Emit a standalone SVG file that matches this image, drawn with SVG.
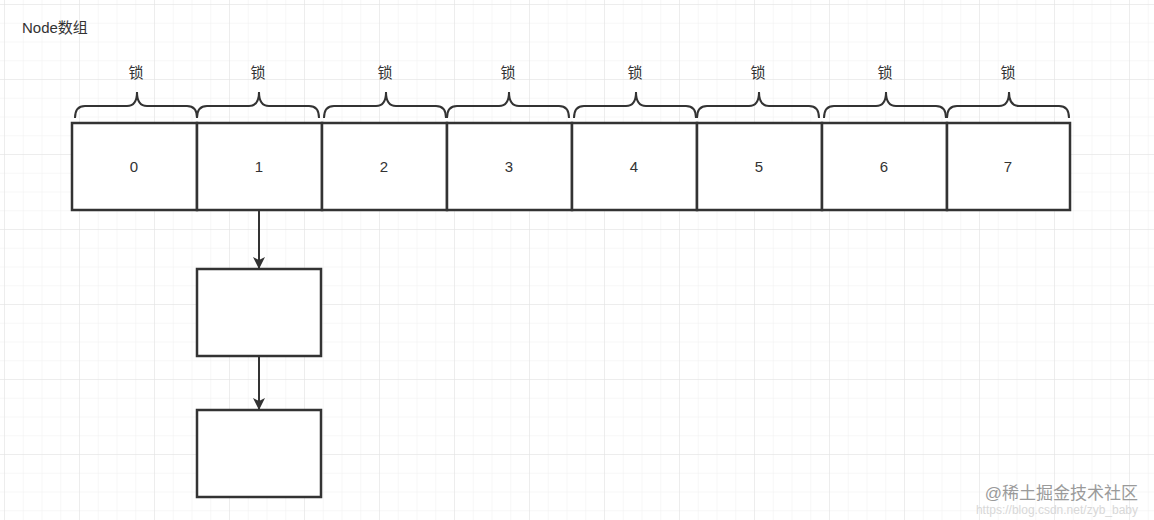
<svg xmlns="http://www.w3.org/2000/svg" width="1154" height="520" viewBox="0 0 1154 520">
<defs>
<pattern id="g" width="18.75" height="18.75" patternUnits="userSpaceOnUse" x="5" y="5"><path d="M18.75 0V18.75H0" fill="none" stroke="#efefef" stroke-width="1"/></pattern>
<pattern id="G" width="75" height="75" patternUnits="userSpaceOnUse" x="5" y="5"><path d="M75 0V75H0" fill="none" stroke="#e3e3e3" stroke-width="1"/></pattern>
<marker id="a" markerWidth="14" markerHeight="14" refX="11" refY="7" orient="auto" markerUnits="userSpaceOnUse"><path d="M0 1L12 7L0 13L3 7Z" fill="#333"/></marker>
<path id="br" d="M0 12Q0 0 10 0H52Q62 0 62 -14Q62 0 72 0H112Q122 0 122 12" fill="none" stroke="#333" stroke-width="2"/>
</defs>
<style>
.c{fill:#fff;stroke:#333;stroke-width:2.5}
text{font-family:"Liberation Sans","Noto Sans CJK SC",sans-serif;font-size:15px;fill:#333;text-anchor:middle}
.l{font-size:14px}
</style>
<rect width="1154" height="520" fill="#fff"/>
<rect width="1154" height="520" fill="url(#g)"/>
<rect width="1154" height="520" fill="url(#G)"/>
<text x="22" y="33" style="text-anchor:start">Node数组</text>
<g id="braces">
<use href="#br" x="75" y="106"/><use href="#br" x="197" y="106"/><use href="#br" x="324" y="106"/><use href="#br" x="447" y="106"/>
<use href="#br" x="574" y="106"/><use href="#br" x="697" y="106"/><use href="#br" x="824" y="106"/><use href="#br" x="947" y="106"/>
</g>
<g id="locks" class="l">
<text x="136" y="78">锁</text><text x="258" y="78">锁</text><text x="385" y="78">锁</text><text x="508" y="78">锁</text>
<text x="635" y="78">锁</text><text x="758" y="78">锁</text><text x="885" y="78">锁</text><text x="1008" y="78">锁</text>
</g>
<g id="cell0"><rect class="c" x="72" y="123" width="125" height="87"/><text x="134" y="172">0</text></g>
<g id="cell1"><rect class="c" x="197" y="123" width="125" height="87"/><text x="259" y="172">1</text></g>
<g id="cell2"><rect class="c" x="322" y="123" width="125" height="87"/><text x="384" y="172">2</text></g>
<g id="cell3"><rect class="c" x="447" y="123" width="125" height="87"/><text x="509" y="172">3</text></g>
<g id="cell4"><rect class="c" x="572" y="123" width="125" height="87"/><text x="634" y="172">4</text></g>
<g id="cell5"><rect class="c" x="697" y="123" width="125" height="87"/><text x="759" y="172">5</text></g>
<g id="cell6"><rect class="c" x="822" y="123" width="125" height="87"/><text x="884" y="172">6</text></g>
<g id="cell7"><rect class="c" x="947" y="123" width="123" height="87"/><text x="1008" y="172">7</text></g>
<g id="n1"><rect class="c" x="197" y="269" width="124" height="87"/></g>
<g id="n2"><rect class="c" x="197" y="410" width="124" height="87"/></g>
<g id="connectors" stroke="#333" stroke-width="2" fill="none">
<path d="M259 211V268" marker-end="url(#a)"/>
<path d="M259 357V409" marker-end="url(#a)"/>
</g>
<text x="1138" y="514" style="text-anchor:end;fill:#d8d8d8;font-size:12px">https://blog.csdn.net/zyb_baby</text>
<text x="1138" y="499" style="text-anchor:end;fill:#9a9a9a;font-size:17px">@稀土掘金技术社区</text>
</svg>
